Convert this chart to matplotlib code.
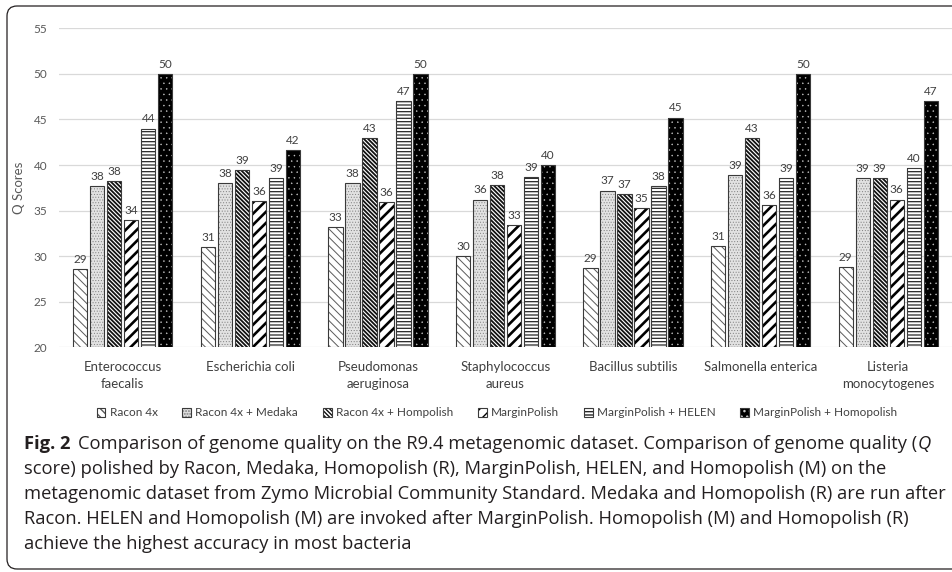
import matplotlib
matplotlib.use("Agg")
import matplotlib.pyplot as plt
import numpy as np
from matplotlib.patches import FancyBboxPatch

# data
categories = ["Enterococcus\nfaecalis", "Escherichia coli", "Pseudomonas\naeruginosa",
              "Staphylococcus\naureus", "Bacillus subtilis", "Salmonella enterica",
              "Listeria\nmonocytogenes"]
series_names = ["Racon 4x", "Racon 4x + Medaka", "Racon 4x + Hompolish", "MarginPolish",
                "MarginPolish + HELEN", "MarginPolish + Homopolish"]
racon = [28.6, 31.0, 33.2, 30.0, 28.7, 31.1, 28.8]
racon_medaka = [37.7, 38.0, 38.0, 36.2, 37.2, 38.9, 38.6]
racon_homopolish = [38.2, 39.4, 43.0, 37.8, 36.8, 43.0, 38.6]
marginpolish = [34.0, 36.0, 35.9, 33.4, 35.3, 35.6, 36.2]
marginpolish_helen = [44.0, 38.6, 47.0, 38.7, 37.7, 38.6, 39.7]
marginpolish_homopolish = [50.0, 41.6, 50.0, 40.0, 45.2, 50.0, 47.0]
y_ticks = [20, 25, 30, 35, 40, 45, 50, 55]

caption_lines = [
    "score) polished by Racon, Medaka, Homopolish (R), MarginPolish, HELEN, and Homopolish (M) on the",
    "metagenomic dataset from Zymo Microbial Community Standard. Medaka and Homopolish (R) are run after",
    "Racon. HELEN and Homopolish (M) are invoked after MarginPolish. Homopolish (M) and Homopolish (R)",
    "achieve the highest accuracy in most bacteria",
]

series = [racon, racon_medaka, racon_homopolish, marginpolish,
          marginpolish_helen, marginpolish_homopolish]

# face colour, hatch, hatch colour, hatch line width
styles = [
    ("white", "\\" * 4, "#5a5a5a", 0.7),
    ("#e2e2e2", "......", "#808080", 0.4),
    ("white", "\\" * 8, "#111111", 1.3),
    ("white", "///", "black", 1.9),
    ("white", "-----", "#262626", 0.9),
    ("black", "...", "#c8c8c8", 0.3),
]

plt.rcParams['font.family'] = ['Lato', 'DejaVu Sans']
W, H = 952, 572
fig = plt.figure(figsize=(W / 100, H / 100), dpi=100)
ax = fig.add_axes([59 / W, 1 - 347.3 / H, (W - 59) / W, (347.3 - 28.3) / H])

x = np.arange(len(categories))
pitch = 17 / 127.6
width = 14.3 / 127.6

handles = []
for j, (vals, (face, hatch, hc, hlw)) in enumerate(zip(series, styles)):
    vals = np.array(vals)
    pos = x + (j - 2.5) * pitch
    with plt.rc_context({'hatch.linewidth': hlw}):
        fill = ax.bar(pos, vals - 20, width, bottom=20, color=face, edgecolor=hc,
                      hatch=hatch, linewidth=0, zorder=2)
        for p in fill:
            if hasattr(p, 'set_hatch_linewidth'):
                p.set_hatch_linewidth(hlw)
    outline = ax.bar(pos, vals - 20, width, bottom=20, fill=False,
                     edgecolor='#3a3a3a', linewidth=0.8, zorder=3)
    ax.bar_label(outline, labels=[f"{v:.0f}" for v in vals], padding=3,
                 fontsize=8.5, color='#404040')
    handles.append((fill, outline))

ax.set_xlim(-0.5, 6.5)
ax.set_ylim(20, 55)
ax.set_yticks(y_ticks)
ax.tick_params(axis='y', length=0, pad=8.5, labelsize=8.5, labelcolor='#595959')
ax.set_xticks(x, categories)
ax.tick_params(axis='x', length=0, pad=10, labelsize=9.5, labelcolor='#404040')
for lbl in ax.get_xticklabels():
    lbl.set_linespacing(1.5)
ax.grid(axis='y', color='#d9d9d9', linewidth=0.9)
ax.set_axisbelow(True)
for s in ax.spines.values():
    s.set_visible(False)
ax.set_ylabel("Q Scores", fontsize=9.5, color='#595959')
ax.yaxis.set_label_coords((25 - 59) / (W - 59), 0.5)

fig.legend(handles, series_names, loc='center', bbox_to_anchor=(497 / W, 1 - 413 / H),
           ncol=6, frameon=False, fontsize=8.5, handlelength=0.75, handleheight=0.75,
           handletextpad=0.35, columnspacing=2.1, labelcolor='#404040')

# frame around figure + caption
frame = FancyBboxPatch((0.07, 0.03), 9.9, 5.63, boxstyle="round,pad=0,rounding_size=0.1",
                       transform=fig.dpi_scale_trans, fill=False, edgecolor='#231f20',
                       linewidth=0.9, clip_on=False)
fig.patches.append(frame)

cap_font = ['Liberation Sans Narrow', 'Open Sans', 'DejaVu Sans']
cap_color = '#231f20'
renderer = fig.canvas.get_renderer()
probe = fig.text(0, 0, caption_lines[1], fontsize=10, family=cap_font)
fs = 10 * 922 / probe.get_window_extent(renderer).width
probe.remove()

x0 = 24
line_y = [444, 469, 494, 519, 544]
t = fig.text(x0 / W, 1 - line_y[0] / H, "Fig. 2", fontsize=fs, family=cap_font,
             weight='bold', va='center', color=cap_color)
xe = t.get_window_extent(renderer).x1
t = fig.text((xe + 8) / W, 1 - line_y[0] / H,
             "Comparison of genome quality on the R9.4 metagenomic dataset. Comparison of genome quality (",
             fontsize=fs, family=cap_font, va='center', color=cap_color)
xe = t.get_window_extent(renderer).x1
fig.text(xe / W, 1 - line_y[0] / H, "Q", fontsize=fs, family=cap_font, style='italic',
         va='center', color=cap_color)
for line, yy in zip(caption_lines, line_y[1:]):
    fig.text(x0 / W, 1 - yy / H, line, fontsize=fs, family=cap_font, va='center',
             color=cap_color)

fig.savefig("out.png", dpi=100)
